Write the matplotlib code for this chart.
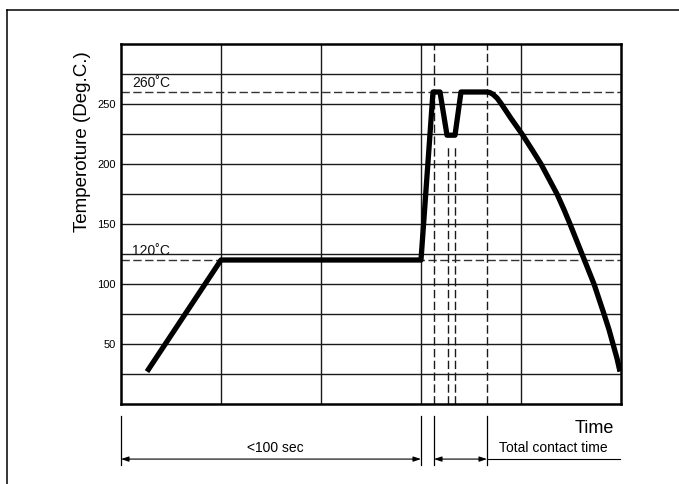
import matplotlib
matplotlib.use("Agg")
import matplotlib.pyplot as plt
from matplotlib.lines import Line2D

plt.rcParams['font.family'] = ['Liberation Sans', 'DejaVu Sans']

# ---- data (time in arbitrary chart units, temperature in deg C) ----
time = [26, 100, 300, 312, 319, 326, 334, 340, 366, 369, 372, 376, 380, 390, 401, 411, 420,
        428, 436, 443, 449, 455, 461, 467, 473, 478, 483, 488, 492, 496, 499]
temp = [27, 120, 120, 260, 260, 224, 224, 260, 260, 259.5, 258, 255, 250.5, 238, 225, 212, 200,
        187.5, 175, 162, 150, 137.5, 125, 112.5, 100, 87.5, 75, 62, 50, 38, 27]

y_ticks = [50, 100, 150, 200, 250]
y_grid = [25, 50, 75, 100, 125, 150, 175, 200, 225, 250, 275]
x_grid = [100, 200, 300, 400]
ref_temps = [260, 120]
ref_labels = ["260˚C", "120˚C"]
full_marks = [313, 366]          # dashed verticals, full height
dip_marks = [326.5, 334]         # dashed verticals below the dip
dip_top = 215
ext_marks = [0, 300, 313, 366]   # extension lines below axis

fig = plt.figure(figsize=(6.79, 4.84), dpi=100)
ax = fig.add_axes([121/679, 1-404/484, 500/679, 360/484])
ax.set_xlim(0, 500)
ax.set_ylim(0, 300)

for y in y_grid:
    ax.axhline(y, color='#1a1a1a', lw=1.0, zorder=1)
for x in x_grid:
    ax.axvline(x, color='#1a1a1a', lw=1.0, zorder=1)

for t in ref_temps:
    ax.axhline(t, color='#333333', lw=1.0, ls=(0, (6, 2.5)), zorder=2)
for x in full_marks:
    ax.axvline(x, color='#1a1a1a', lw=1.0, ls=(0, (6, 2.5)), zorder=2)
for x in dip_marks:
    ax.plot([x, x], [0, dip_top], color='#1a1a1a', lw=1.0, ls=(0, (6, 2.5)), zorder=2)

ax.plot(time, temp, color='black', lw=3.8, solid_joinstyle='round',
        solid_capstyle='butt', zorder=5)

for t, lab in zip(ref_temps, ref_labels):
    ax.text(11, t + 1.5, lab, fontsize=10, ha='left', va='bottom', color='#111111')

ax.set_yticks(y_ticks)
ax.set_yticklabels([str(v) for v in y_ticks], fontsize=8)
ax.set_xticks([])
ax.tick_params(axis='y', length=0, pad=4)
for s in ax.spines.values():
    s.set_linewidth(1.8)
    s.set_color('black')

ax.set_ylabel("Temperoture (Deg.C.)", fontsize=13.5)
ax.yaxis.set_label_coords(-0.06, 0.73)

# ---- annotations below axis ----
trans = ax.get_xaxis_transform()
for x in ext_marks:
    ax.add_line(Line2D([x, x], [-0.033, -0.17], transform=trans, color='black',
                       lw=0.9, clip_on=False))
arrow_y = -0.153
ax.annotate("", xy=(0, arrow_y), xytext=(300, arrow_y), xycoords=trans, textcoords=trans,
            arrowprops=dict(arrowstyle='<|-|>,head_length=0.45,head_width=0.15',
                            color='black', lw=0.8, shrinkA=0, shrinkB=0))
ax.annotate("", xy=(313, arrow_y), xytext=(366, arrow_y), xycoords=trans, textcoords=trans,
            arrowprops=dict(arrowstyle='<|-|>,head_length=0.45,head_width=0.15',
                            color='black', lw=0.8, shrinkA=0, shrinkB=0))
ax.add_line(Line2D([366, 499], [arrow_y, arrow_y], transform=trans, color='black',
                   lw=0.8, clip_on=False))
ax.text(154, arrow_y + 0.012, "<100 sec", transform=trans, fontsize=10,
        ha='center', va='bottom')
ax.text(432, arrow_y + 0.012, "Total contact time", transform=trans, fontsize=10,
        ha='center', va='bottom')
ax.text(493, -0.045, "Time", transform=trans, fontsize=13, ha='right', va='top')

# ---- outer frame (top and left) ----
fig.add_artist(Line2D([7/679, 1], [1-10/484, 1-10/484], transform=fig.transFigure,
                      color='black', lw=1.1))
fig.add_artist(Line2D([7/679, 7/679], [0, 1-10/484], transform=fig.transFigure,
                      color='black', lw=1.1))

fig.savefig("out.png", dpi=100)
